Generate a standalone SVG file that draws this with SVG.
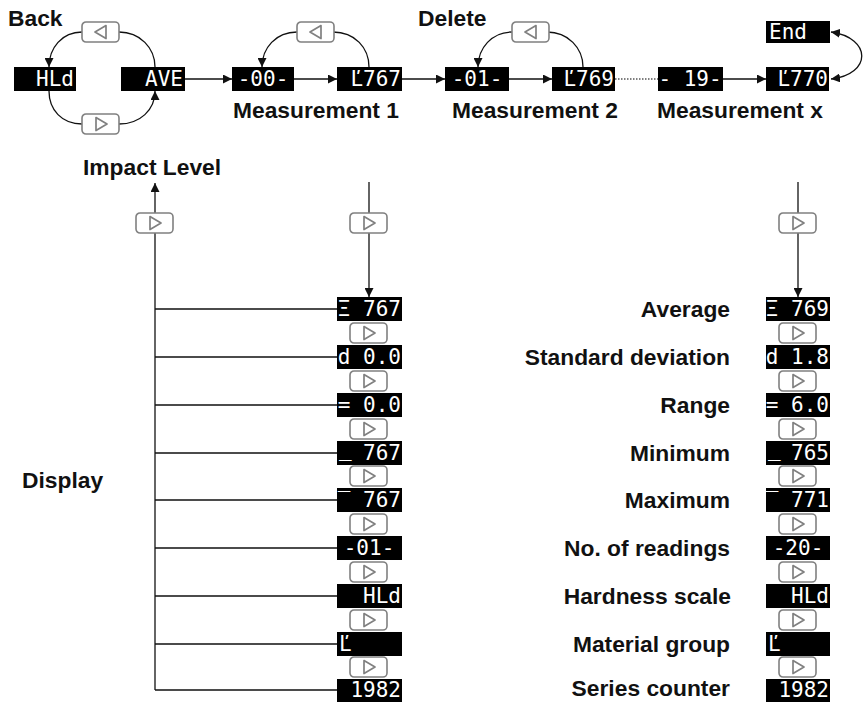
<svg xmlns="http://www.w3.org/2000/svg" width="868" height="702" viewBox="0 0 868 702">
<defs>
<style>
.lbl{font-family:"Liberation Sans",Arial,sans-serif;font-weight:bold;font-size:22.8px;fill:#111}
.r{text-anchor:end}
.d{fill:#000}
.lcd{font-family:"DejaVu Sans Mono","Liberation Mono",monospace;font-size:21px;fill:#fff;white-space:pre}
.btn{fill:#fff;stroke:#808080;stroke-width:1.6}
.tri{fill:none;stroke:#808080;stroke-width:1.7;stroke-linejoin:round}
.c{fill:none;stroke:#111;stroke-width:1.3}
.dot{fill:none;stroke:#555;stroke-width:1.3;stroke-dasharray:1.5 1.5}
</style>
<marker id="ah" viewBox="0 0 10 10" refX="10" refY="5" markerWidth="9" markerHeight="9" markerUnits="userSpaceOnUse" orient="auto-start-reverse">
<path d="M0,0 L10,5 L0,10 z" fill="#111"/>
</marker>
<g id="bR"><rect class="btn" x="0" y="0" width="37" height="20" rx="4"/><polygon class="tri" points="14,3.5 25,10 14,16.5"/></g>
<g id="bL"><rect class="btn" x="0" y="0" width="37" height="20" rx="4"/><polygon class="tri" points="24,3.5 13,10 24,16.5"/></g>
</defs>
<rect width="868" height="702" fill="#fff"/>

<g id="connectors">
<path class="c" d="M82,32 C62,32 49,48 49,67" marker-end="url(#ah)"/>
<path class="c" d="M155,67 C155,48 140,32 119,32"/>
<path class="c" d="M49,91 C49,110 62,124 82,124"/>
<path class="c" d="M119,124 C140,124 155,110 155,91" marker-end="url(#ah)"/>
<path class="c" d="M185,79 L232,79" marker-end="url(#ah)"/>
<path class="c" d="M297,32 C276,32 262,48 262,67" marker-end="url(#ah)"/>
<path class="c" d="M369,67 C369,48 355,32 333,32"/>
<path class="c" d="M294,79 L337,79" marker-end="url(#ah)"/>
<path class="c" d="M402,79 L445,79" marker-end="url(#ah)"/>
<path class="c" d="M512,32 C492,32 478,48 478,67" marker-end="url(#ah)"/>
<path class="c" d="M583,67 C583,48 568,32 547,32"/>
<path class="c" d="M509,79 L552,79" marker-end="url(#ah)"/>
<path class="dot" d="M615,79 L658,79"/>
<path class="c" d="M723,79 L766,79" marker-end="url(#ah)"/>
<path class="c" d="M831,32 C872,38 872,74 831,79" marker-start="url(#ah)" marker-end="url(#ah)"/>
<path class="c" d="M155,690 L155,183" marker-end="url(#ah)"/>
<path class="c" d="M369,182 L369,297" marker-end="url(#ah)"/>
<path class="c" d="M798,182 L798,297" marker-end="url(#ah)"/>
<path class="c" d="M155,309 H337 M155,357 H337 M155,405 H337 M155,453 H337 M155,500 H337 M155,548 H337 M155,596 H337 M155,644 H337 M155,690 H337"/>
</g>

<g id="labels">
<text class="lbl" x="8" y="26">Back</text>
<text class="lbl" x="418" y="26">Delete</text>
<text class="lbl" x="233" y="118">Measurement 1</text>
<text class="lbl" x="452" y="118">Measurement 2</text>
<text class="lbl" x="657" y="118">Measurement x</text>
<text class="lbl" x="83" y="175">Impact Level</text>
<text class="lbl" x="22" y="488">Display</text>
<text class="lbl r" x="730" y="317">Average</text>
<text class="lbl r" x="730" y="365">Standard deviation</text>
<text class="lbl r" x="730" y="413">Range</text>
<text class="lbl r" x="730" y="461">Minimum</text>
<text class="lbl r" x="730" y="508">Maximum</text>
<text class="lbl r" x="730" y="556">No. of readings</text>
<text class="lbl r" x="731" y="604">Hardness scale</text>
<text class="lbl r" x="730" y="652">Material group</text>
<text class="lbl r" x="730" y="696">Series counter</text>
</g>

<g id="top-buttons">
<use href="#bL" x="82" y="22"/>
<use href="#bR" x="82" y="114"/>
<use href="#bL" x="297" y="22"/>
<use href="#bL" x="512" y="22"/>
<use href="#bR" x="136" y="213"/>
<use href="#bR" x="350" y="213"/>
<use href="#bR" x="779" y="213"/>
</g>

<g id="top-displays">
<g id="d-hld"><rect class="d" x="14" y="67" width="62" height="24"/><text class="lcd" x="74" y="86" text-anchor="end">HLd</text></g>
<g id="d-ave"><rect class="d" x="121" y="67" width="64" height="24"/><text class="lcd" x="183" y="86" text-anchor="end">AVE</text></g>
<g id="d-m00"><rect class="d" x="232" y="67" width="62" height="24"/><text class="lcd" x="263" y="86" text-anchor="middle">-00-</text></g>
<g id="d-767"><rect class="d" x="337" y="67" width="65" height="24"/><text class="lcd" x="401" y="86" text-anchor="end">Ľ767</text></g>
<g id="d-m01"><rect class="d" x="445" y="67" width="64" height="24"/><text class="lcd" x="477" y="86" text-anchor="middle">-01-</text></g>
<g id="d-769"><rect class="d" x="552" y="67" width="63" height="24"/><text class="lcd" x="614" y="86" text-anchor="end">Ľ769</text></g>
<g id="d-m19"><rect class="d" x="658" y="67" width="65" height="24"/><text class="lcd" x="690" y="86" text-anchor="middle">- 19-</text></g>
<g id="d-770"><rect class="d" x="766" y="67" width="63" height="24"/><text class="lcd" x="828" y="86" text-anchor="end">Ľ770</text></g>
<g id="d-end"><rect class="d" x="766" y="21" width="64" height="22"/><text class="lcd" x="769" y="39">End</text></g>
</g>

<g id="col1">
<g id="c1-1"><rect class="d" x="337" y="297" width="65" height="24"/><text class="lcd" x="401" y="316" text-anchor="end">Ξ 767</text></g>
<use href="#bR" x="350" y="323"/>
<g id="c1-2"><rect class="d" x="337" y="345" width="65" height="24"/><text class="lcd" x="401" y="364" text-anchor="end">d 0.0</text></g>
<use href="#bR" x="350" y="371"/>
<g id="c1-3"><rect class="d" x="337" y="393" width="65" height="24"/><text class="lcd" x="401" y="412" text-anchor="end">= 0.0</text></g>
<use href="#bR" x="350" y="419"/>
<g id="c1-4"><rect class="d" x="337" y="441" width="65" height="24"/><text class="lcd" x="339" y="456">_</text><text class="lcd" x="401" y="460" text-anchor="end">767</text></g>
<use href="#bR" x="350" y="466"/>
<g id="c1-5"><rect class="d" x="337" y="488" width="65" height="24"/><text class="lcd" x="401" y="507" text-anchor="end">‾ 767</text></g>
<use href="#bR" x="350" y="514"/>
<g id="c1-6"><rect class="d" x="337" y="536" width="65" height="24"/><text class="lcd" x="369" y="555" text-anchor="middle">-01-</text></g>
<use href="#bR" x="350" y="562"/>
<g id="c1-7"><rect class="d" x="337" y="584" width="65" height="24"/><text class="lcd" x="401" y="603" text-anchor="end">HLd</text></g>
<use href="#bR" x="350" y="610"/>
<g id="c1-8"><rect class="d" x="337" y="632" width="65" height="24"/><text class="lcd" x="339" y="651">Ľ</text></g>
<use href="#bR" x="350" y="657"/>
<g id="c1-9"><rect class="d" x="337" y="679" width="65" height="23"/><text class="lcd" x="401" y="697" text-anchor="end">1982</text></g>
</g>

<g id="col2">
<g id="c2-1"><rect class="d" x="766" y="297" width="64" height="24"/><text class="lcd" x="829" y="316" text-anchor="end">Ξ 769</text></g>
<use href="#bR" x="779" y="323"/>
<g id="c2-2"><rect class="d" x="766" y="345" width="64" height="24"/><text class="lcd" x="829" y="364" text-anchor="end">d 1.8</text></g>
<use href="#bR" x="779" y="371"/>
<g id="c2-3"><rect class="d" x="766" y="393" width="64" height="24"/><text class="lcd" x="829" y="412" text-anchor="end">= 6.0</text></g>
<use href="#bR" x="779" y="419"/>
<g id="c2-4"><rect class="d" x="766" y="441" width="64" height="24"/><text class="lcd" x="768" y="456">_</text><text class="lcd" x="829" y="460" text-anchor="end">765</text></g>
<use href="#bR" x="779" y="466"/>
<g id="c2-5"><rect class="d" x="766" y="488" width="64" height="24"/><text class="lcd" x="829" y="507" text-anchor="end">‾ 771</text></g>
<use href="#bR" x="779" y="514"/>
<g id="c2-6"><rect class="d" x="766" y="536" width="64" height="24"/><text class="lcd" x="798" y="555" text-anchor="middle">-20-</text></g>
<use href="#bR" x="779" y="562"/>
<g id="c2-7"><rect class="d" x="766" y="584" width="64" height="24"/><text class="lcd" x="829" y="603" text-anchor="end">HLd</text></g>
<use href="#bR" x="779" y="610"/>
<g id="c2-8"><rect class="d" x="766" y="632" width="64" height="24"/><text class="lcd" x="768" y="651">Ľ</text></g>
<use href="#bR" x="779" y="657"/>
<g id="c2-9"><rect class="d" x="766" y="679" width="64" height="23"/><text class="lcd" x="829" y="697" text-anchor="end">1982</text></g>
</g>
</svg>
